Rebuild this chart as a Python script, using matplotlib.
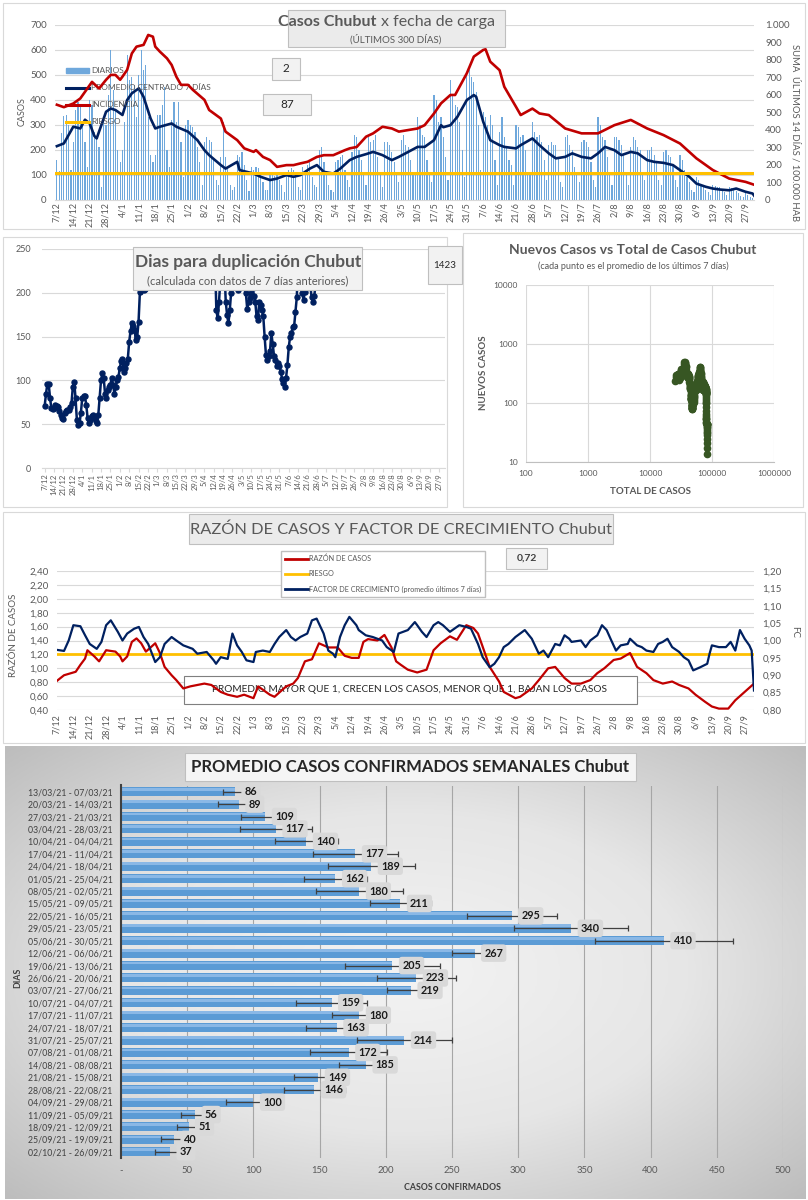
import matplotlib
matplotlib.use('Agg')
import matplotlib.pyplot as plt
import matplotlib.patches as mpatches
from matplotlib.lines import Line2D
from matplotlib.colors import LinearSegmentedColormap
import numpy as np
import pandas as pd

plt.rcParams['font.family'] = ['Lato', 'DejaVu Sans']

# ---------------- datos ----------------
# casos diarios desde el 7/12/2020 (semanas lunes-domingo)
diarios = [
    160, 115, 265, 335, 340, 300, 120,
    230, 360, 390, 380, 300, 230, 130,
    400, 380, 270, 250, 210, 50, 330,
    300, 420, 600, 440, 360, 200, 150,
    200, 310, 580, 480, 490, 460, 330,
    500, 600, 520, 540, 330, 180, 150,
    180, 340, 340, 380, 450, 200, 130,
    320, 390, 310, 390, 230, 90, 300,
    320, 300, 290, 270, 210, 150, 60,
    230, 250, 240, 230, 160, 80, 60,
    170, 310, 170, 130, 60, 40, 50,
    180, 170, 190, 140, 80, 35, 130,
    120, 130, 125, 100, 70, 40, 40,
    110, 100, 95, 100, 80, 60, 30,
    110, 120, 125, 120, 90, 50, 40,
    130, 120, 140, 160, 90, 60, 50,
    200, 210, 150, 110, 60, 40, 30,
    150, 160, 170, 180, 120, 80, 50,
    190, 260, 250, 200, 160, 100, 60,
    250, 230, 240, 260, 170, 100, 50,
    230, 230, 220, 190, 150, 100, 70,
    240, 260, 220, 210, 160, 100, 110,
    330, 300, 260, 250, 160, 100, 70,
    420, 400, 310, 330, 250, 170, 80,
    480, 420, 380, 370, 310, 200, 90,
    500, 520, 490, 470, 430, 300, 120,
    350, 330, 300, 340, 300, 160, 60,
    270, 330, 250, 210, 160, 140, 60,
    300, 290, 250, 260, 200, 100, 100,
    310, 270, 250, 260, 230, 160, 80,
    220, 230, 220, 220, 170, 70, 50,
    250, 260, 220, 200, 130, 100, 70,
    230, 240, 230, 210, 150, 80, 50,
    330, 300, 250, 240, 170, 100, 60,
    250, 250, 240, 220, 180, 100, 60,
    210, 250, 240, 210, 200, 100, 80,
    200, 200, 210, 180, 150, 80, 60,
    190, 200, 180, 170, 140, 80, 50,
    180, 160, 120, 90, 70, 40, 30,
    90, 80, 60, 50, 40, 30, 20,
    60, 55, 50, 50, 40, 30, 20,
    50, 45, 40, 35, 25, 15, 10,
    30, 20, 12, 8, 2,
]
casos_previos = 24000

# promedio centrado 7 dias (dia = dias desde 7/12/2020)
prom_dia = [0, 3, 7, 10, 12, 14, 16, 17, 18, 21, 23, 25, 28, 30, 32, 35, 37, 40, 42, 44,
            49, 51, 56, 60, 63, 65, 70, 72, 77, 78, 84, 87, 91, 94, 98, 101, 104, 108, 111, 114,
            118, 121, 125, 128, 132, 135, 139, 143, 146, 150, 154, 157, 161, 164, 165, 168, 171, 175, 178, 179,
            182, 185, 189, 191, 196, 198, 203, 206, 210, 213, 217, 220, 224, 228, 231, 234, 238, 241, 245, 248,
            252, 255, 259, 263, 266, 270, 273, 277, 280, 283, 287, 290, 294, 297, 298]
prom = [214, 225, 292, 285, 320, 305, 255, 245, 272, 352, 365, 359, 339, 399, 426, 446, 412, 325, 285, 292,
        305, 292, 272, 238, 198, 178, 138, 124, 151, 118, 104, 91, 78, 84, 98, 91, 98, 124, 138, 111,
        104, 124, 158, 171, 182, 191, 178, 158, 171, 191, 211, 211, 238, 298, 290, 298, 332, 399, 419, 412,
        312, 238, 218, 211, 205, 218, 245, 218, 185, 165, 171, 185, 171, 165, 185, 211, 198, 178, 191, 185,
        158, 151, 147, 138, 118, 91, 64, 51, 44, 40, 37, 44, 31, 24, 11]

# incidencia: suma ultimos 14 dias / 100.000 hab
inc_dia = [0, 3, 7, 10, 13, 15, 18, 21, 23, 25, 27, 28, 30, 32, 34, 37, 39, 41, 42, 44,
           47, 49, 51, 53, 56, 58, 63, 65, 70, 72, 77, 80, 84, 85, 88, 91, 94, 98, 101, 104,
           107, 111, 114, 118, 123, 125, 128, 132, 135, 139, 143, 146, 154, 157, 161, 164, 168, 170, 175, 178,
           182, 183, 185, 189, 191, 196, 198, 203, 206, 210, 217, 224, 231, 238, 245, 252, 259, 266, 273, 280,
           287, 294, 298]
inc = [543, 529, 550, 579, 636, 674, 636, 686, 714, 714, 686, 704, 743, 837, 876, 886, 943, 933, 876, 847,
       809, 771, 704, 657, 657, 629, 571, 513, 464, 389, 340, 293, 273, 283, 244, 226, 187, 197, 197, 207,
       216, 244, 254, 254, 283, 293, 301, 360, 379, 417, 407, 389, 407, 426, 493, 551, 599, 599, 723, 819,
       857, 861, 790, 741, 646, 531, 484, 521, 493, 484, 407, 379, 379, 426, 456, 407, 369, 321, 236, 169,
       120, 101, 83]
riesgo_inc = 150

# dias para duplicacion
dup_dia = (list(range(0, 77)) + [80, 87, 94, 101, 108, 115, 122] + list(range(126, 204))
           + [210, 217, 224, 231, 238, 245, 252, 259, 266, 273, 280, 287, 294, 298])
dup = [71, 85, 96, 96, 80, 68, 67, 68, 72, 71, 70, 65, 60, 57, 56, 63, 65, 66, 66, 70,
       74, 93, 98, 80, 55, 49, 51, 63, 80, 82, 82, 72, 57, 51, 55, 59, 61, 57, 54, 51,
       61, 80, 100, 108, 103, 85, 80, 89, 92, 95, 103, 95, 85, 92, 100, 104, 114, 122, 124, 110,
       114, 120, 125, 144, 156, 165, 162, 158, 146, 150, 167, 201, 215, 205, 203, 204, 230,
       290, 340, 420, 480, 430, 380, 320,
       300, 240, 180, 171, 190, 215, 260, 280, 230, 190,
       175, 165, 180, 200, 230, 260, 240, 210, 203, 220,
       240, 230, 215, 205, 200, 182, 190, 194, 200, 205,
       196, 190, 173, 169, 190, 186, 180, 173, 150, 129,
       123, 128, 133, 154, 142, 128, 123, 116, 120, 116,
       110, 102, 97, 93, 103, 118, 138, 150, 154, 161,
       162, 178, 195, 240, 280, 230, 200, 192, 201, 215,
       240, 230, 210, 195, 190, 196, 210, 260,
       300, 370, 450, 520, 600, 690, 780, 870, 960, 1060, 1150, 1250, 1350, 1423]

# razon de casos
raz_dia = [0, 3, 8, 10, 12, 13, 16, 18, 21, 25, 27, 28, 30, 32, 34, 36, 38, 42, 44, 46,
           49, 51, 54, 57, 60, 63, 66, 70, 73, 77, 80, 84, 86, 91, 93, 98, 101, 103, 106, 109,
           112, 116, 120, 123, 126, 129, 131, 133, 137, 140, 143, 145, 147, 150, 154, 158, 161, 164, 168, 171,
           175, 178, 180, 182, 185, 189, 191, 196, 198, 203, 206, 210, 213, 217, 220, 224, 228, 231, 234, 238,
           241, 245, 248, 252, 255, 259, 263, 266, 270, 273, 277, 280, 283, 287, 290, 294, 298]
raz = [0.82, 0.90, 0.95, 1.05, 1.14, 1.26, 1.17, 1.10, 1.26, 1.24, 1.17, 1.10, 1.17, 1.38, 1.43, 1.36, 1.24, 1.36, 1.22, 1.02,
       0.90, 0.83, 0.71, 0.74, 0.76, 0.78, 0.76, 0.66, 0.62, 0.59, 0.62, 0.57, 0.74, 0.62, 0.59, 0.74, 0.78, 0.86, 1.10, 1.13,
       1.36, 1.30, 1.30, 1.18, 1.15, 1.15, 1.38, 1.42, 1.40, 1.48, 1.30, 1.10, 1.05, 0.98, 0.94, 0.98, 1.26, 1.36, 1.46, 1.41,
       1.62, 1.58, 1.50, 1.31, 1.02, 0.81, 0.66, 0.57, 0.59, 0.71, 0.83, 1.00, 1.02, 0.86, 0.78, 0.78, 0.83, 0.93, 1.00, 1.12,
       1.14, 1.22, 1.02, 0.93, 0.83, 0.78, 0.81, 0.76, 0.71, 0.62, 0.52, 0.45, 0.42, 0.42, 0.54, 0.66, 0.78]
riesgo_raz = 1.2

# factor de crecimiento (promedio ultimos 7 dias)
fc_dia = [0, 3, 5, 7, 10, 12, 14, 17, 19, 21, 23, 26, 28, 30, 33, 35, 37, 39, 42, 44,
          46, 49, 51, 54, 58, 60, 64, 67, 68, 70, 73, 75, 77, 79, 81, 84, 85, 88, 91, 93,
          95, 98, 100, 102, 104, 107, 109, 111, 114, 116, 118, 119, 121, 123, 125, 128, 129, 132, 135, 139,
          141, 144, 146, 150, 153, 154, 156, 158, 161, 163, 165, 168, 171, 172, 175, 177, 180, 182, 185, 187,
          189, 191, 193, 196, 198, 200, 203, 206, 208, 210, 213, 215, 217, 219, 220, 224, 226, 228, 231, 233,
          235, 237, 239, 241, 244, 245, 248, 250, 252, 255, 257, 259, 261, 263, 266, 268, 270, 272, 275, 278,
          279, 280, 283, 286, 288, 290, 292, 294, 296, 297, 298]
fc = [0.973, 0.97, 1.00, 1.044, 1.041, 1.015, 0.99, 0.976, 0.996, 1.044, 1.058, 1.025, 1.00, 1.02, 1.034, 1.039, 1.01, 0.99, 0.938, 0.952,
      0.99, 1.01, 1.00, 0.986, 0.976, 0.962, 0.967, 0.943, 0.933, 0.952, 0.947, 1.02, 0.986, 0.967, 0.943, 0.938, 0.967, 0.971, 0.967, 0.99,
      1.01, 1.03, 1.01, 1.00, 1.01, 1.02, 1.058, 1.063, 1.02, 0.971, 0.962, 0.952, 1.01, 1.044, 1.068, 1.044, 1.03, 1.015, 1.01, 1.00,
      0.981, 0.967, 1.02, 1.03, 1.053, 1.044, 1.025, 1.01, 1.044, 1.053, 1.044, 1.025, 1.039, 1.044, 1.039, 1.034, 0.99, 0.952, 0.923, 0.933,
      0.952, 0.981, 0.99, 1.01, 1.02, 1.03, 1.005, 0.962, 0.971, 0.952, 0.99, 0.986, 1.015, 1.005, 0.996, 1.00, 0.981, 1.00, 1.015, 1.044,
      1.03, 1.00, 0.971, 0.986, 0.99, 1.005, 0.986, 0.981, 0.971, 0.967, 0.99, 0.996, 1.005, 0.981, 0.967, 0.952, 0.943, 0.914, 0.923, 0.933,
      0.962, 0.986, 0.981, 0.981, 0.996, 0.971, 1.03, 1.005, 0.986, 0.971, 0.856]

# promedio semanal
semanas_lbl = ['13/03/21 - 07/03/21', '20/03/21 - 14/03/21', '27/03/21 - 21/03/21', '03/04/21 - 28/03/21',
               '10/04/21 - 04/04/21', '17/04/21 - 11/04/21', '24/04/21 - 18/04/21', '01/05/21 - 25/04/21',
               '08/05/21 - 02/05/21', '15/05/21 - 09/05/21', '22/05/21 - 16/05/21', '29/05/21 - 23/05/21',
               '05/06/21 - 30/05/21', '12/06/21 - 06/06/21', '19/06/21 - 13/06/21', '26/06/21 - 20/06/21',
               '03/07/21 - 27/06/21', '10/07/21 - 04/07/21', '17/07/21 - 11/07/21', '24/07/21 - 18/07/21',
               '31/07/21 - 25/07/21', '07/08/21 - 01/08/21', '14/08/21 - 08/08/21', '21/08/21 - 15/08/21',
               '28/08/21 - 22/08/21', '04/09/21 - 29/08/21', '11/09/21 - 05/09/21', '18/09/21 - 12/09/21',
               '25/09/21 - 19/09/21', '02/10/21 - 26/09/21']
prom_sem = [86, 89, 109, 117, 140, 177, 189, 162, 180, 211, 295, 340, 410, 267, 205, 223, 219, 159, 180, 163,
            214, 172, 185, 149, 146, 100, 56, 51, 40, 37]
err_sem = [9, 16, 18, 27, 24, 32, 33, 24, 33, 23, 34, 43, 52, 17, 36, 30, 18, 27, 21, 23,
           36, 29, 20, 18, 23, 21, 11, 9, 10, 11]

# ---------------- estilo ----------------
W, H = 808, 1200
GRIS = '#595959'
ROJO = '#c00000'
AZUL = '#002060'
AMARILLO = '#ffc000'
CELESTE = '#6fa8dc'
GRILLA = '#d9d9d9'

fig = plt.figure(figsize=(W / 100, H / 100), dpi=100)


def rect(x0, y0, x1, y1):
    return [x0 / W, 1 - y1 / H, (x1 - x0) / W, (y1 - y0) / H]


def caja(x0, y0, x1, y1, fc='#f2f2f2', ec='#bfbfbf', lw=0.8, z=5):
    fig.add_artist(mpatches.Rectangle((x0 / W, 1 - y1 / H), (x1 - x0) / W, (y1 - y0) / H,
                                      transform=fig.transFigure, fc=fc, ec=ec, lw=lw, zorder=z))


def texto(x, y, s, z=6, **kw):
    kw.setdefault('ha', 'center')
    kw.setdefault('va', 'center')
    fig.text(x / W, 1 - y / H, s, zorder=z, **kw)


def limpiar(ax):
    for s in ax.spines.values():
        s.set_visible(False)
    ax.tick_params(length=0, colors=GRIS)


coma = lambda v, p: f'{v:.2f}'.replace('.', ',')
miles = lambda v, p: f'{int(v):,}'.replace(',', '.')

semanas = pd.date_range('2020-12-07', periods=43, freq='7D')
etiquetas = [f'{d.day}/{d.month}' for d in semanas]
pos_sem = np.arange(len(semanas)) * 7

# marcos de cada panel
for r in [(3, 3, 805, 229), (3, 237, 447, 507), (463, 233, 803, 507), (3, 512, 805, 743)]:
    caja(*r, fc='none', ec=GRILLA, lw=0.8, z=0.5)

# ---------------- panel 1: casos x fecha de carga ----------------
x = np.arange(len(diarios))
ax1 = fig.add_axes(rect(55, 25, 754, 199.5))
ax1.bar(x, diarios, width=0.5, color=CELESTE, zorder=2)
ax1.plot(prom_dia, prom, color=AZUL, lw=1.9, zorder=3)
ax1.set_ylim(0, 700)
ax1.set_xlim(-0.8, 297.6)
ax1.set_yticks(range(0, 701, 100))
ax1.grid(axis='y', color=GRILLA, lw=0.8)
ax1.set_axisbelow(True)
limpiar(ax1)
ax1.spines['bottom'].set_visible(True)
ax1.spines['bottom'].set_color(GRILLA)
ax1.set_xticks(pos_sem)
ax1.set_xticklabels(etiquetas, rotation=90, fontsize=6.5)
ax1.tick_params(axis='y', labelsize=7, pad=6)
ax1.tick_params(axis='x', pad=2)
ax1r = ax1.twinx()
ax1r.plot(inc_dia, inc, color=ROJO, lw=1.9)
ax1r.axhline(riesgo_inc, color=AMARILLO, lw=2.2)
ax1r.set_ylim(0, 1000)
ax1r.set_yticks(range(0, 1001, 100))
ax1r.yaxis.set_major_formatter(miles)
limpiar(ax1r)
ax1r.tick_params(axis='y', labelsize=7, pad=8)
handles = [mpatches.Patch(color=CELESTE), Line2D([], [], color=AZUL, lw=2.2),
           Line2D([], [], color=ROJO, lw=2.2), Line2D([], [], color=AMARILLO, lw=2.2)]
leg = ax1r.legend(handles, ['DIARIOS', 'PROMEDIO CENTRADO 7 DÍAS', 'INCIDENCIA', 'RIESGO'],
                  loc='upper left', bbox_to_anchor=(62 / W, 1 - 63 / H), bbox_transform=fig.transFigure,
                  frameon=False, fontsize=6, handlelength=2.7, handleheight=0.5, labelspacing=1.2,
                  borderpad=0, handletextpad=0.3, labelcolor=GRIS)
leg.set_zorder(1)
texto(22, 112, 'CASOS', rotation=90, fontsize=6.5, color=GRIS)
texto(795, 133, 'SUMA  ÚLTIMOS 14 DÍAS / 100.000 HAB', rotation=270, fontsize=6.8, color=GRIS)

caja(288, 10, 505, 47, fc='#ebebeb')
texto(376, 22, 'Casos Chubut', ha='right', fontsize=11.5, weight='bold', color=GRIS)
texto(381, 22, 'x fecha de carga', ha='left', fontsize=11.5, color=GRIS)
texto(396, 39, '(ÚLTIMOS 300 DÍAS)', fontsize=7, color=GRIS)
caja(272, 58, 300, 80)
texto(286, 69, '2', fontsize=8.5, color='#262626')
caja(263, 94, 311, 115)
texto(287, 104.5, '87', fontsize=8.5, color='#262626')

# ---------------- panel 2: dias para duplicacion ----------------
ax2 = fig.add_axes(rect(42, 249, 445, 468))
ax2.plot(dup_dia, dup, color=AZUL, lw=1.8, marker='o', ms=3.6)
ax2.set_ylim(0, 250)
ax2.set_xlim(-2, 298.5)
ax2.set_yticks(range(0, 251, 50))
ax2.grid(axis='y', color=GRILLA, lw=0.8)
ax2.set_axisbelow(True)
limpiar(ax2)
ax2.spines['bottom'].set_visible(True)
ax2.spines['bottom'].set_color(GRILLA)
ax2.set_xticks(pos_sem)
ax2.set_xticklabels(etiquetas, rotation=90, fontsize=5.5)
ax2.tick_params(axis='x', length=3, color=GRILLA, pad=1)
ax2.tick_params(axis='y', labelsize=6.5, pad=8)
caja(133, 247, 362, 290, fc='#f2f2f2')
texto(248, 262, 'Dias para duplicación Chubut', fontsize=12.5, weight='bold', color=GRIS)
texto(248, 281, '(calculada con datos de 7 días anteriores)', fontsize=8, color=GRIS)
caja(428, 246, 462, 284)
texto(445, 265, '1423', fontsize=7, color='#262626')

# ---------------- panel 2b: nuevos vs total ----------------
serie = pd.Series(diarios, dtype=float)
total = casos_previos + serie.cumsum()
nuevos = serie.rolling(7).mean()
ok = nuevos.notna()
ax5 = fig.add_axes(rect(526, 285, 774, 462))
ax5.plot(total[ok], nuevos[ok], color='#375623', lw=1.8, marker='o', ms=4.5)
ax5.set_xscale('log')
ax5.set_yscale('log')
ax5.set_xlim(100, 1e6)
ax5.set_ylim(10, 1e4)
ax5.set_xticks([100, 1000, 10000, 100000, 1000000])
ax5.set_yticks([10, 100, 1000, 10000])
ax5.xaxis.set_major_formatter(lambda v, p: f'{int(v)}')
ax5.yaxis.set_major_formatter(lambda v, p: f'{int(v)}')
ax5.minorticks_off()
ax5.grid(color=GRILLA, lw=0.8)
ax5.set_axisbelow(True)
limpiar(ax5)
ax5.spines['bottom'].set_visible(True)
ax5.spines['bottom'].set_color('#bfbfbf')
ax5.tick_params(labelsize=6, pad=6)
texto(633, 250, 'Nuevos Casos vs Total de Casos Chubut', fontsize=10, weight='bold', color=GRIS)
texto(633, 266, '(cada punto es el promedio de los últimos 7 días)', fontsize=6.5, color=GRIS)
texto(650, 492, 'TOTAL DE CASOS', fontsize=7, weight='bold', color=GRIS)
texto(483, 373, 'NUEVOS CASOS', rotation=90, fontsize=7, weight='bold', color=GRIS)

# ---------------- panel 3: razon de casos y factor de crecimiento ----------------
ax3 = fig.add_axes(rect(57, 571, 754, 710))
ax3.plot(raz_dia, raz, color=ROJO, lw=1.6, zorder=3)
ax3.axhline(riesgo_raz, color=AMARILLO, lw=2, zorder=2.5)
ax3.set_ylim(0.4, 2.4)
ax3.set_xlim(0, 298)
ax3.set_yticks(np.arange(0.4, 2.41, 0.2))
ax3.yaxis.set_major_formatter(coma)
ax3.grid(axis='y', color=GRILLA, lw=0.8)
ax3.set_axisbelow(True)
limpiar(ax3)
ax3.set_xticks(pos_sem)
ax3.set_xticklabels(etiquetas, rotation=90, fontsize=6.5)
ax3.tick_params(axis='y', labelsize=7, pad=6)
ax3.tick_params(axis='x', pad=3)
ax3.add_patch(mpatches.Rectangle((184 / W, 1 - 704 / H), (637 - 184) / W, 28 / H, transform=fig.transFigure,
                                 fc='white', ec='#7f7f7f', lw=0.8, zorder=1))
ax3.text(410 / W, 1 - 690 / H, 'PROMEDIO MAYOR QUE 1, CRECEN LOS CASOS, MENOR QUE 1, BAJAN LOS CASOS',
         transform=fig.transFigure, ha='center', va='center', fontsize=7.3, color='#262626', zorder=1.5)
ax3r = ax3.twinx()
ax3r.plot(fc_dia, fc, color=AZUL, lw=1.6)
ax3r.set_ylim(0.8, 1.2)
ax3r.set_yticks(np.arange(0.8, 1.201, 0.05))
ax3r.yaxis.set_major_formatter(coma)
limpiar(ax3r)
ax3r.tick_params(axis='y', labelsize=7, pad=6)
fig.legend([Line2D([], [], color=ROJO, lw=2), Line2D([], [], color=AMARILLO, lw=2), Line2D([], [], color=AZUL, lw=2)],
           ['RAZÓN DE CASOS', 'RIESGO', 'FACTOR DE CRECIMIENTO (promedio últimos 7 días)'],
           loc='upper left', bbox_to_anchor=(277 / W, 1 - 547 / H), fontsize=5.2, frameon=True,
           fancybox=False, edgecolor='#bfbfbf', framealpha=1, handlelength=3.2, labelspacing=1.1,
           borderpad=0.6, handletextpad=0.1, labelcolor=GRIS)
texto(14, 635, 'RAZÓN DE CASOS', rotation=90, fontsize=7, color=GRIS)
texto(795, 632, 'FC', rotation=270, fontsize=7, color=GRIS)
caja(189, 514, 613, 544, fc='#ebebeb')
texto(401, 529.5, 'RAZÓN DE CASOS Y FACTOR DE CRECIMIENTO Chubut', fontsize=11.8, color=GRIS)
caja(506, 548, 547, 569)
texto(526.5, 558.5, '0,72', fontsize=7.5, weight='bold', color='#404040')

# ---------------- panel 4: promedio semanal ----------------
bg = fig.add_axes(rect(5, 746, 806, 1199), zorder=-1)
yy, xx = np.mgrid[-1:1:200j, -1:1:300j]
radio = np.sqrt(xx ** 2 + yy ** 2) / np.sqrt(2)
bg.imshow(radio, cmap=LinearSegmentedColormap.from_list('fondo', ['#f3f3f3', '#e6e6e6', '#bdbdbd']),
          aspect='auto', interpolation='bilinear')
bg.axis('off')

pos = np.arange(len(prom_sem))
ax4 = fig.add_axes(rect(121, 785.5, 783, 1158))
ax4.patch.set_alpha(0)
ax4.barh(pos, prom_sem, height=0.72, color='#5b9bd5', zorder=2)
ax4.barh(pos - 0.2, prom_sem, height=0.22, color='#8ab8e6', zorder=2.1)
ax4.errorbar(prom_sem, pos, xerr=err_sem, fmt='none', ecolor='#404040', elinewidth=0.9,
             capsize=2.2, capthick=0.9, zorder=3)
for i, v in enumerate(prom_sem):
    ax4.annotate(str(v), (v, i), xytext=(7, 0), textcoords='offset points', ha='left', va='center',
                 fontsize=7.8, weight='bold', color='#1a1a1a', zorder=5,
                 bbox=dict(boxstyle='round,pad=0.3', fc='#d9d9d9', ec='none'))
ax4.set_ylim(len(prom_sem) - 0.5, -0.5)
ax4.set_xlim(0, 500)
ax4.set_yticks(pos)
ax4.set_yticklabels(semanas_lbl, fontsize=6.3, color='#404040')
ax4.set_xticks(range(0, 501, 50))
ax4.set_xticklabels(['-'] + [str(v) for v in range(50, 501, 50)], fontsize=6.8, color=GRIS)
ax4.grid(axis='x', color='#a6a6a6', lw=0.8)
ax4.set_axisbelow(True)
for s in ['top', 'right', 'bottom']:
    ax4.spines[s].set_visible(False)
ax4.spines['left'].set_color('#404040')
ax4.spines['left'].set_linewidth(1.5)
ax4.tick_params(length=0, pad=6)
texto(452, 1188, 'CASOS CONFIRMADOS', fontsize=6.3, weight='bold', color='#404040')
texto(18, 978, 'DIAS', rotation=90, fontsize=6.3, weight='bold', color='#404040')
caja(185, 753, 636, 781, fc='#f5f5f5', ec='#bfbfbf')
texto(410, 767.5, 'PROMEDIO CASOS CONFIRMADOS SEMANALES Chubut', fontsize=12, weight='bold', color='#262626')

fig.savefig('out.png', dpi=100)
